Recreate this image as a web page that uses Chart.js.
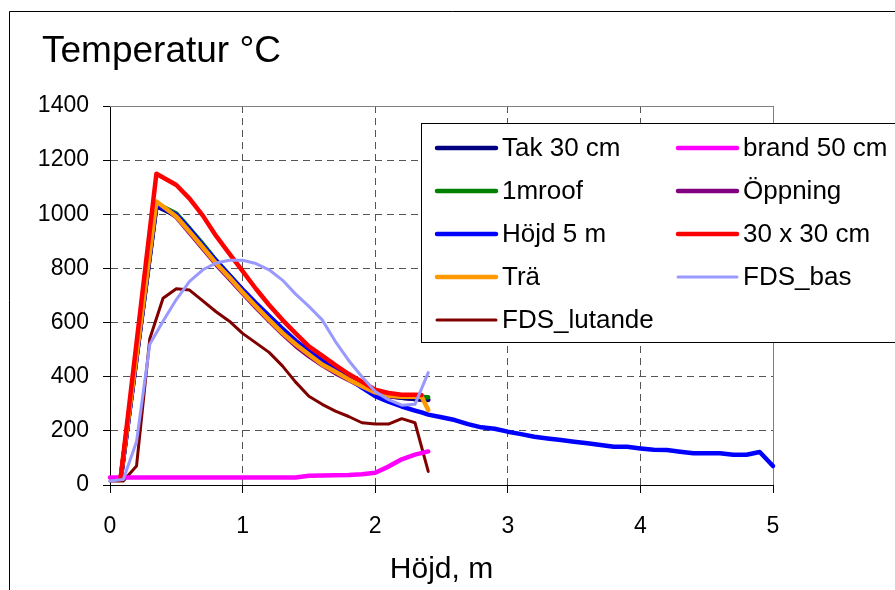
<!DOCTYPE html>
<html>
<head>
<meta charset="utf-8">
<script src="https://cdn.jsdelivr.net/npm/chart.js@4/dist/chart.umd.min.js"></script>
<style>
  html, body { margin: 0; padding: 0; background: #fff; }
  canvas { display: block; }
</style>
</head>
<body>
<canvas id="c" width="895" height="590"></canvas>
<script>
// ---- Data ----
const titleText = "Temperatur °C";
const xAxisTitle = "Höjd, m";
const yTicks = [0, 200, 400, 600, 800, 1000, 1200, 1400];
const xTicks = [0, 1, 2, 3, 4, 5];

const seriesNames = ["Tak 30 cm", "1mroof", "Höjd 5 m", "Trä", "FDS_lutande",
                     "brand 50 cm", "Öppning", "30 x 30 cm", "FDS_bas"];

// model x positions (m)
const xModel = [0.08, 0.35, 0.5, 0.6, 0.7, 0.8, 0.9, 1.0, 1.1, 1.2, 1.3, 1.4, 1.5,
                1.6, 1.7, 1.8, 1.9, 2.0, 2.1, 2.2, 2.3, 2.35, 2.4];
const tak30 =    [20, 1030, 995, 942, 882, 825, 772, 718, 668, 620, 573, 528, 490,
                  455, 424, 396, 368, 345, 330, 322, 318, 316, 315];
const mroof =    [25, 1040, 1003, 948, 890, 830, 776, 720, 668, 617, 568, 524, 485,
                  450, 420, 393, 368, 345, 333, 328, 326, 325, 324];
const hojd5 =    [20, 1035, 998, 945, 885, 828, 775, 722, 672, 625, 578, 533, 495,
                  460, 428, 394, 360, 328, 308, 290, 275, 268, 260];
const tra =      [25, 1047, 992, 936, 878, 819, 767, 712, 660, 610, 562, 520, 482,
                  445, 418, 390, 365, 342, 330, 326, 326, 327, 277];
const oppning =  [22, 1040, 990, 932, 873, 815, 762, 708, 656, 606, 558, 514, 476,
                  443, 413, 388, 363, 340, 328, 322, 318, 316, 314];
const x30 =      [25, 1150, 1108, 1058, 995, 920, 855, 790, 725, 665, 610, 560, 512,
                  478, 443, 410, 382, 352, 340, 333, 333, 332, null];

// Höjd 5 m continues to 5 m
const xTail = [2.5, 2.6, 2.7, 2.8, 2.9, 3.0, 3.1, 3.2, 3.3, 3.4, 3.5, 3.6, 3.7,
               3.8, 3.9, 4.0, 4.1, 4.2, 4.3, 4.4, 4.5, 4.6, 4.7, 4.8, 4.9, 5.0];
const hojd5Tail = [250, 240, 225, 213, 208, 197, 188, 178, 172, 166, 160, 154, 148,
                   141, 141, 135, 130, 129, 123, 117, 117, 117, 112, 112, 122, 70];

// brand 50 cm
const xBrand = [0, 0.5, 1.0, 1.4, 1.5, 1.8, 1.9, 2.0, 2.1, 2.2, 2.3, 2.4];
const brand50 = [28, 28, 28, 28, 34, 37, 40, 45, 68, 95, 112, 124];

// FDS series
const xFds = [0, 0.1, 0.2, 0.3, 0.4, 0.5, 0.6, 0.7, 0.8, 0.9, 1.0, 1.1, 1.2,
              1.3, 1.4, 1.5, 1.6, 1.7, 1.8, 1.9, 2.0, 2.1, 2.2, 2.3, 2.4];
const fdsLutande = [15, 15, 70, 540, 690, 725, 720, 680, 640, 605, 560, 525, 490,
                    440, 380, 328, 298, 273, 253, 230, 225, 225, 245, 230, 50];
const fdsBas = [15, 20, 160, 520, 605, 685, 752, 795, 820, 830, 830, 818, 795,
                757, 705, 660, 610, 530, 460, 400, 345, 315, 295, 298, 415];

const colors = ["#000080", "#008000", "#0000FF", "#FF9900", "#800000",
                "#FF00FF", "#800080", "#FF0000", "#9999FF"];
const widths = [4.5, 4.5, 4.5, 4.5, 3, 4.5, 4.5, 4.5, 3];
// stacking rank (higher = drawn later, on top)
const drawRank = [1, 2, 3, 4, 5, 6, 0, 7, 8];

function pts(xs, ys) {
  const out = [];
  xs.forEach((x, i) => { if (ys[i] !== null && ys[i] !== undefined) out.push({x: x, y: ys[i]}); });
  return out;
}

const seriesData = [
  pts(xModel, tak30),
  pts(xModel, mroof),
  pts(xModel.concat(xTail), hojd5.concat(hojd5Tail)),
  pts(xModel, tra),
  pts(xFds, fdsLutande),
  pts(xBrand, brand50),
  pts(xModel, oppning),
  pts(xModel, x30),
  pts(xFds, fdsBas)
];

const datasets = seriesNames.map((name, i) => ({
  label: name,
  data: seriesData[i],
  borderColor: colors[i],
  backgroundColor: colors[i],
  borderWidth: widths[i],
  showLine: true,
  pointRadius: 0,
  pointHoverRadius: 0,
  tension: 0,
  borderJoinStyle: 'round',
  borderCapStyle: 'round',
  clip: false,
  order: 20 - drawRank[i]
}));

const FONT = "'Liberation Sans', Arial, sans-serif";

const decor = {
  id: 'decor',
  beforeDatasetsDraw(chart) {
    const ctx = chart.ctx, a = chart.chartArea;
    ctx.save();
    ctx.strokeStyle = '#808080';
    ctx.lineWidth = 1;
    ctx.beginPath();
    ctx.moveTo(a.left, Math.round(a.top) + 0.5);
    ctx.lineTo(Math.round(a.right) + 0.5, Math.round(a.top) + 0.5);
    ctx.lineTo(Math.round(a.right) + 0.5, a.bottom);
    ctx.stroke();
    ctx.restore();
  },
  afterDraw(chart) {
    const ctx = chart.ctx;
    ctx.save();
    // outer chart border
    ctx.strokeStyle = '#000';
    ctx.lineWidth = 1;
    ctx.beginPath();
    ctx.moveTo(9.5, 590);
    ctx.lineTo(9.5, 11.5);
    ctx.lineTo(895, 11.5);
    ctx.stroke();
    // title
    ctx.fillStyle = '#000';
    ctx.font = "37px " + FONT;
    ctx.textAlign = 'left';
    ctx.textBaseline = 'alphabetic';
    ctx.fillText(titleText, 42, 62);
    // legend
    const lx = 421.5, ly = 123.5, lb = 342.5;
    ctx.fillStyle = '#fff';
    ctx.fillRect(lx, ly, 900 - lx, lb - ly);
    ctx.strokeStyle = '#000';
    ctx.lineWidth = 1;
    ctx.strokeRect(lx, ly, 900 - lx, lb - ly);
    const rows = [148, 191, 234, 277, 320];
    const cols = [{x0: 437, x1: 496, tx: 502}, {x0: 678, x1: 737, tx: 743}];
    ctx.font = "26px " + FONT;
    ctx.textBaseline = 'middle';
    chart.data.datasets.forEach((ds, i) => {
      const col = cols[i < 5 ? 0 : 1];
      const y = rows[i < 5 ? i : i - 5];
      ctx.strokeStyle = ds.borderColor;
      ctx.lineWidth = ds.borderWidth;
      ctx.lineCap = 'round';
      ctx.beginPath();
      ctx.moveTo(col.x0, y);
      ctx.lineTo(col.x1, y);
      ctx.stroke();
      ctx.fillStyle = '#000';
      ctx.fillText(ds.label, col.tx, y + 1);
    });
    ctx.restore();
  }
};

new Chart(document.getElementById('c'), {
  type: 'scatter',
  data: { datasets: datasets },
  options: {
    responsive: false,
    devicePixelRatio: 1,
    animation: false,
    layout: { padding: { left: 0, top: 106, right: 122, bottom: 0 } },
    plugins: {
      legend: { display: false },
      tooltip: { enabled: false },
      title: { display: false }
    },
    scales: {
      x: {
        type: 'linear',
        min: 0, max: 5,
        afterBuildTicks(scale) { scale.ticks = xTicks.map(v => ({value: v})); },
        afterFit(scale) { scale.height = 105; },
        grid: {
          color: '#555',
          lineWidth: 1,
          tickLength: 8,
          tickColor: '#000',
          tickBorderDash: [],
          drawTicks: true
        },
        border: { display: true, color: '#000', width: 1, dash: [7, 5] },
        ticks: {
          color: '#000',
          font: { family: FONT, size: 23 },
          padding: 20,
          maxRotation: 0,
          callback: v => String(v)
        },
        title: {
          display: true,
          text: xAxisTitle,
          color: '#000',
          font: { family: FONT, size: 30 },
          padding: { top: 0, bottom: 2 }
        }
      },
      y: {
        type: 'linear',
        min: 0, max: 1400,
        afterBuildTicks(scale) { scale.ticks = yTicks.map(v => ({value: v})); },
        afterFit(scale) { scale.width = 110; },
        grid: {
          color: '#555',
          lineWidth: 1,
          tickLength: 7,
          tickColor: '#000',
          tickBorderDash: [],
          drawTicks: true
        },
        border: { display: true, color: '#000', width: 1, dash: [7, 5] },
        ticks: {
          color: '#000',
          font: { family: FONT, size: 23 },
          padding: 14,
          callback: v => String(v)
        }
      }
    }
  },
  plugins: [decor]
});
</script>
</body>
</html>
